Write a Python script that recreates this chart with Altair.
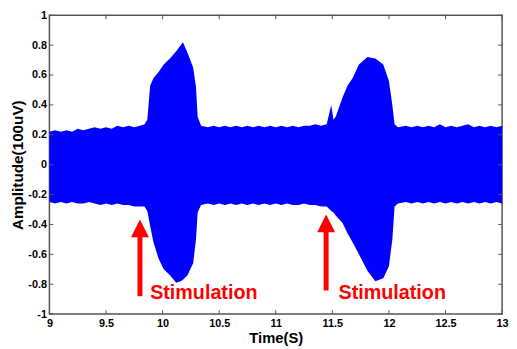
import altair as alt
import pandas as pd

# ---- signal envelope (time in s, amplitude in 100uV)
times = [9.00, 9.05, 9.10, 9.15, 9.20, 9.25, 9.30, 9.35, 9.40, 9.45, 9.50, 9.55, 9.60, 9.65, 9.70, 9.75, 9.80, 9.84,
         9.865, 9.89, 9.92, 9.965, 10.01, 10.065, 10.12, 10.16, 10.18, 10.22, 10.27, 10.295, 10.31, 10.34,
         10.40, 10.45, 10.50, 10.55, 10.60, 10.65, 10.70, 10.75, 10.80, 10.85, 10.90, 10.95, 11.00, 11.05,
         11.10, 11.15, 11.20, 11.25, 11.30, 11.35, 11.40, 11.45, 11.49, 11.51, 11.53, 11.59, 11.635, 11.68,
         11.735, 11.81, 11.88, 11.95, 12.00, 12.03, 12.05, 12.08, 12.15, 12.20, 12.25, 12.30, 12.35, 12.40,
         12.45, 12.50, 12.55, 12.60, 12.65, 12.70, 12.75, 12.80, 12.85, 12.90, 12.95, 13.00]
upper = [0.22, 0.23, 0.22, 0.23, 0.22, 0.24, 0.23, 0.24, 0.25, 0.24, 0.25, 0.24, 0.26, 0.25, 0.26, 0.25, 0.26, 0.27,
         0.30, 0.53, 0.58, 0.62, 0.67, 0.71, 0.76, 0.80, 0.82, 0.75, 0.65, 0.52, 0.32, 0.26,
         0.25, 0.26, 0.25, 0.26, 0.25, 0.26, 0.25, 0.26, 0.25, 0.26, 0.25, 0.26, 0.25, 0.26,
         0.25, 0.26, 0.25, 0.26, 0.26, 0.27, 0.26, 0.27, 0.40, 0.30, 0.32, 0.45, 0.53, 0.58,
         0.67, 0.72, 0.71, 0.67, 0.56, 0.40, 0.27, 0.25, 0.26, 0.25, 0.26, 0.25, 0.26, 0.25,
         0.27, 0.25, 0.26, 0.25, 0.26, 0.27, 0.25, 0.26, 0.25, 0.26, 0.25, 0.26]
lower = [-0.25, -0.26, -0.25, -0.26, -0.25, -0.26, -0.26, -0.25, -0.26, -0.27, -0.26, -0.27, -0.26, -0.27, -0.27, -0.28, -0.28, -0.28,
         -0.31, -0.41, -0.52, -0.63, -0.70, -0.74, -0.79, -0.78, -0.77, -0.74, -0.66, -0.50, -0.32, -0.27,
         -0.26, -0.27, -0.26, -0.27, -0.26, -0.27, -0.26, -0.27, -0.26, -0.27, -0.26, -0.27, -0.26, -0.27,
         -0.26, -0.27, -0.27, -0.26, -0.27, -0.27, -0.28, -0.28, -0.31, -0.32, -0.34, -0.39, -0.46, -0.52,
         -0.60, -0.71, -0.78, -0.76, -0.68, -0.50, -0.28, -0.26, -0.25, -0.26, -0.25, -0.26, -0.25, -0.26,
         -0.25, -0.26, -0.25, -0.26, -0.25, -0.26, -0.25, -0.26, -0.25, -0.26, -0.25, -0.26]

# ---- annotations
arrow_x = [9.80, 11.445]
arrow_head_y = [-0.426, -0.393]
arrow_shaft_top = [-0.47, -0.44]
arrow_shaft_bottom = [-0.88, -0.842]
label_x = [9.89, 11.555]
label_y = [-0.862, -0.862]
label_text = ["Stimulation", "Stimulation"]

# ---- axis ticks
x_ticks = [9, 9.5, 10, 10.5, 11, 11.5, 12, 12.5, 13]
y_ticks = [-1, -0.8, -0.6, -0.4, -0.2, 0, 0.2, 0.4, 0.6, 0.8, 1]

W, H = 459, 303
FONT = "Liberation Sans"

sig = pd.DataFrame({"t": times, "up": upper, "lo": lower})
arrows = pd.DataFrame({"x": arrow_x, "head": arrow_head_y, "top": arrow_shaft_top, "bot": arrow_shaft_bottom})
labels = pd.DataFrame({"x": label_x, "y": label_y, "text": label_text})
xt = pd.DataFrame({"v": x_ticks})
yt = pd.DataFrame({"v": y_ticks})

xscale = alt.Scale(domain=[9, 13], nice=False, zero=False)
yscale = alt.Scale(domain=[-1, 1], nice=False, zero=False)

xaxis = alt.Axis(values=x_ticks, labelExpr="'' + datum.value", ticks=False, domain=False, grid=False,
                 labelPadding=4, labelFont=FONT, labelFontWeight="bold", labelFontSize=11, labelColor="#000",
                 labelOverlap=False, labelFlush=False,
                 title="Time(S)", titleFont=FONT, titleFontWeight="bold", titleFontSize=15, titleColor="#000",
                 titleX=W / 2, titleY=24, titleBaseline="middle", titleAlign="center")
yaxis = alt.Axis(values=y_ticks, labelExpr="'' + datum.value", ticks=False, domain=False, grid=False,
                 labelPadding=3, labelFont=FONT, labelFontWeight="bold", labelFontSize=11, labelColor="#000",
                 labelOverlap=False, labelFlush=False,
                 title="Amplitude(100uV)", titleFont=FONT, titleFontWeight="bold", titleFontSize=15.5,
                 titleColor="#000", titleX=-32, titleY=H / 2, titleAngle=270, titleBaseline="middle",
                 titleAlign="center")


def X(field):
    return alt.X(field, type="quantitative", scale=xscale, axis=xaxis)


def Y(field):
    return alt.Y(field, type="quantitative", scale=yscale, axis=yaxis)


signal = alt.Chart(sig).mark_area(color="#0000FF", opacity=1, strokeWidth=0).encode(
    x=X("t"), y=Y("up"), y2="lo:Q")

tick_color = "#555555"
xt_bottom = alt.Chart(xt).mark_rule(color=tick_color, strokeWidth=1).encode(
    x=X("v"), y=alt.value(H), y2=alt.value(H - 4))
xt_top = alt.Chart(xt).mark_rule(color=tick_color, strokeWidth=1).encode(
    x=X("v"), y=alt.value(0), y2=alt.value(4))
yt_left = alt.Chart(yt).mark_rule(color=tick_color, strokeWidth=1).encode(
    y=Y("v"), x=alt.value(0), x2=alt.value(4))
yt_right = alt.Chart(yt).mark_rule(color=tick_color, strokeWidth=1).encode(
    y=Y("v"), x=alt.value(W), x2=alt.value(W - 4))

shaft = alt.Chart(arrows).mark_rule(color="#FF0000", strokeWidth=5, strokeCap="butt").encode(
    x=X("x"), y=Y("top"), y2="bot:Q")
head = alt.Chart(arrows).mark_point(shape="M0,-1L1,1L-1,1Z", filled=True, color="#FF0000", opacity=1,
                                    size=330, strokeWidth=0).encode(
    x=X("x"), y=Y("head"))
text = alt.Chart(labels).mark_text(color="#FF0000", font=FONT, fontWeight="bold", fontSize=20,
                                   align="left", baseline="middle").encode(
    x=X("x"), y=Y("y"), text="text:N")

chart = alt.layer(signal, xt_bottom, xt_top, yt_left, yt_right, shaft, head, text).properties(
    width=W, height=H,
    autosize=alt.AutoSizeParams(type="none"),
    padding={"left": 42, "top": 5, "right": 7, "bottom": 32},
    background="white",
).configure_view(stroke="#555555", strokeWidth=1.5)

chart.save("out.html", embed_options={"renderer": "svg", "actions": False})
